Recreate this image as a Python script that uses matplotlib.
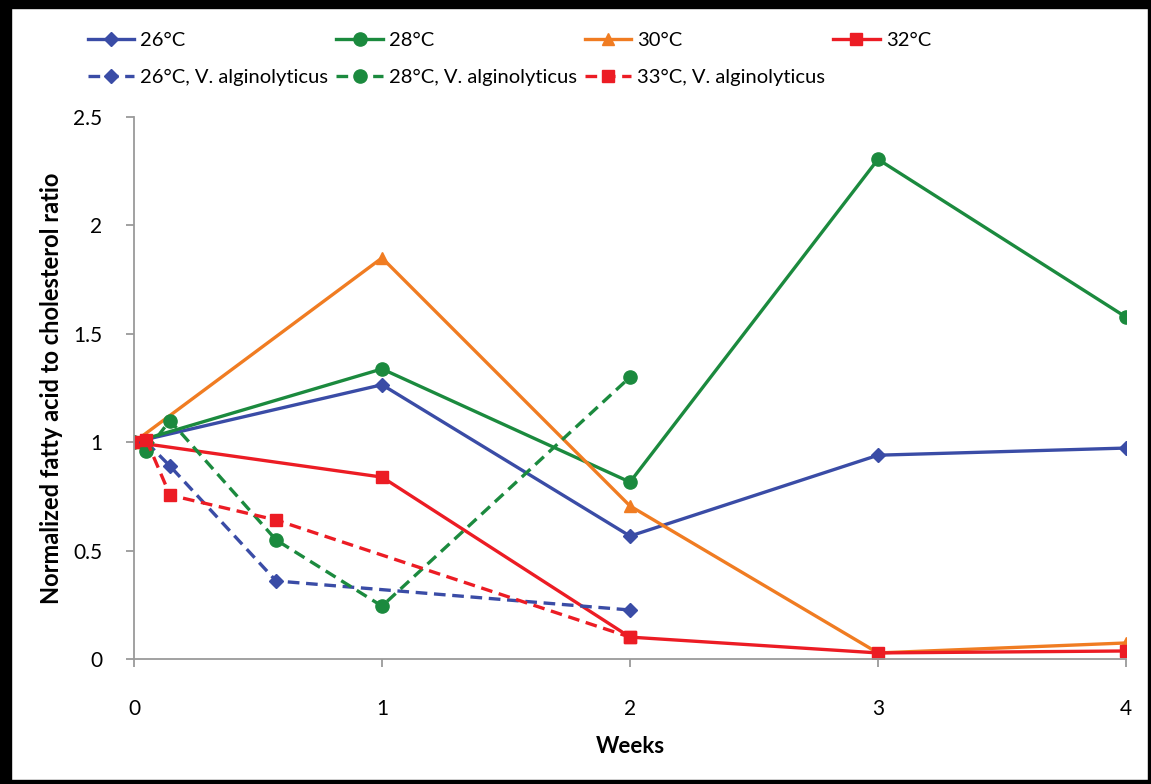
import matplotlib
matplotlib.use("Agg")
import matplotlib.pyplot as plt
from matplotlib.patches import Rectangle

plt.rcParams['font.family'] = ['Lato', 'DejaVu Sans']

# weeks / normalized ratio for each temperature series
weeks_26 = [0, 1, 2, 3, 4]
ratio_26 = [1.0, 1.265, 0.567, 0.94, 0.973]
weeks_28 = [0, 1, 2, 3, 4]
ratio_28 = [1.0, 1.338, 0.816, 2.305, 1.577]
weeks_30 = [0, 1, 2, 3, 4]
ratio_30 = [1.0, 1.85, 0.706, 0.028, 0.074]
weeks_32 = [0, 1, 2, 3, 4]
ratio_32 = [1.0, 0.839, 0.101, 0.028, 0.037]

# infected (V. alginolyticus) series
weeks_26v = [0.05, 0.145, 0.573, 2]
ratio_26v = [1.0, 0.89, 0.36, 0.226]
weeks_28v = [0.05, 0.145, 0.573, 1, 2]
ratio_28v = [0.96, 1.10, 0.549, 0.244, 1.30]
weeks_33v = [0.05, 0.145, 0.573, 2]
ratio_33v = [1.01, 0.756, 0.641, 0.101]

blue = '#3A4CA6'
green = '#1B8A3E'
orange = '#F07C22'
red = '#EC1C24'

fig = plt.figure(figsize=(11.51, 7.84), dpi=100)
ax = fig.add_axes([134 / 1151, 125 / 784, 992 / 1151, 542 / 784])

lw = 2.4
dash = (0, (3.5, 2))
h26, = ax.plot(weeks_26, ratio_26, color=blue, lw=lw, marker='D', ms=7, label='26°C')
h28, = ax.plot(weeks_28, ratio_28, color=green, lw=lw, marker='o', ms=9.5, label='28°C')
h30, = ax.plot(weeks_30, ratio_30, color=orange, lw=lw, marker='^', ms=9, label='30°C')
h32, = ax.plot(weeks_32, ratio_32, color=red, lw=lw, marker='s', ms=8.5, label='32°C')
h26v, = ax.plot(weeks_26v, ratio_26v, color=blue, lw=lw, ls=dash, marker='D', ms=7,
                label='26°C, V. alginolyticus')
h28v, = ax.plot(weeks_28v, ratio_28v, color=green, lw=lw, ls=dash, marker='o', ms=9.5,
                label='28°C, V. alginolyticus')
h33v, = ax.plot(weeks_33v, ratio_33v, color=red, lw=lw, ls=dash, marker='s', ms=8.5,
                label='33°C, V. alginolyticus')

ax.set_xlim(0, 4)
ax.set_ylim(0, 2.5)
ax.set_xticks([0, 1, 2, 3, 4])
ax.set_yticks([0, 0.5, 1, 1.5, 2, 2.5])
ax.set_yticklabels(['0', '0.5', '1', '1.5', '2', '2.5'])
ax.tick_params(axis='both', labelsize=15, colors='#9A9A9A', labelcolor='black',
               length=6, width=1.3, direction='out')
ax.tick_params(axis='x', pad=23)
ax.tick_params(axis='y', pad=17)
for side in ['top', 'right']:
    ax.spines[side].set_visible(False)
for side in ['left', 'bottom']:
    ax.spines[side].set_color('#9A9A9A')
    ax.spines[side].set_linewidth(1.3)
ax.set_xlabel('Weeks', fontsize=16, fontweight='bold', labelpad=12)
ax.set_ylabel('Normalized fatty acid to cholesterol ratio', fontsize=17, fontweight='bold',
              labelpad=7)

handles = [h26, h26v, h28, h28v, h30, h33v, h32]
fig.legend(handles=handles, labels=[h.get_label() for h in handles], ncol=4,
           loc='upper left', bbox_to_anchor=(80 / 1151, 1 - 24 / 784), frameon=False,
           fontsize=14.5, handlelength=2.3, handletextpad=0.3, columnspacing=0.4,
           labelspacing=1.0, borderaxespad=0)

# black frame around the figure
fig.patches.append(Rectangle((0, 1 - 8 / 784), 1, 8 / 784, transform=fig.transFigure,
                             color='black', zorder=10))
fig.patches.append(Rectangle((0, 0), 11 / 1151, 1, transform=fig.transFigure,
                             color='black', zorder=10))
fig.patches.append(Rectangle((0, 0), 1, 4 / 784, transform=fig.transFigure,
                             color='black', zorder=10))
fig.patches.append(Rectangle((1 - 3 / 1151, 0), 3 / 1151, 1, transform=fig.transFigure,
                             color='black', zorder=10))

fig.savefig('out.png', dpi=100)
